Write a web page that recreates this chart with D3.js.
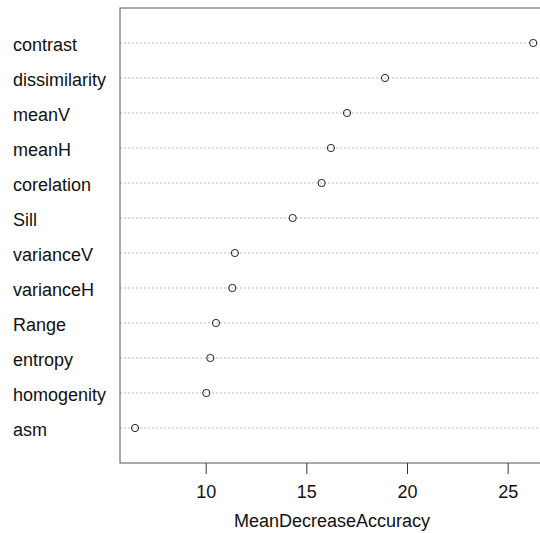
<!DOCTYPE html>
<html><head><meta charset="utf-8">
<script src="https://cdn.jsdelivr.net/npm/d3@7"></script>
<style>body{margin:0;background:#fff}</style>
</head><body>
<svg id="c" width="540" height="533"></svg>
<script>
const variables = ["contrast","dissimilarity","meanV","meanH","corelation","Sill","varianceV","varianceH","Range","entropy","homogenity","asm"];
const meanDecreaseAccuracy = [26.27,18.91,17.02,16.22,15.76,14.32,11.45,11.32,10.51,10.23,10.03,6.49];
const xTicks = [10,15,20,25];
const xTitle = "MeanDecreaseAccuracy";

const svg = d3.select("#c");
const L = 120, R = 549, T = 8, B = 463;
const x = d3.scaleLinear().domain([0, 25]).range([4.4, 4.4 + 25*20.13]);
const y = d3.scalePoint().domain(variables).range([43, 428]);
const font = "Liberation Sans, Arial, sans-serif";

// dotted guide lines
svg.append("g").selectAll("line").data(variables).join("line")
  .attr("x1", L).attr("x2", R)
  .attr("y1", d => y(d)).attr("y2", d => y(d))
  .attr("stroke", "#bdbdbd").attr("stroke-width", 1)
  .attr("stroke-dasharray", "2,2");

// box
svg.append("rect").attr("x", L).attr("y", T).attr("width", R - L).attr("height", B - T)
  .attr("fill", "none").attr("stroke", "#555").attr("stroke-width", 1);

// points
svg.append("g").selectAll("circle").data(variables).join("circle")
  .attr("cx", (d, i) => x(meanDecreaseAccuracy[i]))
  .attr("cy", d => y(d))
  .attr("r", 3.6).attr("fill", "none").attr("stroke", "#222").attr("stroke-width", 1);

// y labels
svg.append("g").selectAll("text").data(variables).join("text")
  .attr("x", 13).attr("y", d => y(d) + 7.5)
  .attr("font-family", font).attr("font-size", 18).attr("fill", "#111")
  .text(d => d);

// x axis
const ax = svg.append("g").attr("transform", `translate(0,${B})`)
  .call(d3.axisBottom(x).tickValues(xTicks).tickSize(11).tickPadding(11).tickFormat(d3.format("d")));
ax.select(".domain").remove();
ax.selectAll("line").attr("stroke", "#333");
ax.selectAll("text").attr("font-family", font).attr("font-size", 18).attr("fill", "#111");

svg.append("text").attr("x", 332).attr("y", 527)
  .attr("text-anchor", "middle").attr("font-family", font).attr("font-size", 18).attr("fill", "#111")
  .text(xTitle);
</script>
</body></html>
